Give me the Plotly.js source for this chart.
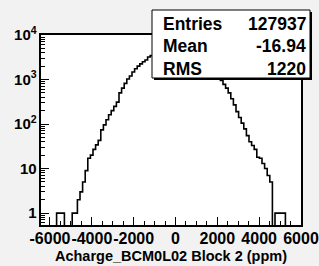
<!DOCTYPE html>
<html>
<head>
<meta charset="utf-8">
<script src="https://cdn.plot.ly/plotly-3.0.1.min.js"></script>
<style>
  html, body { margin: 0; padding: 0; background: #f2f2f2; }
  #chart { width: 319px; height: 266px; }
</style>
</head>
<body>
<div id="chart"></div>
<script>
// ---- data ----
const binLo = -6430;
const binHi = 6000;
const nBins = 100;
const counts = [
  0, 0, 0, 0, 0, 0,
  1, 1, 1,
  0, 0, 0,
  1, 1,
  2, 3, 5, 9, 17, 20, 27, 34, 43, 74, 96, 125, 162, 200, 250, 310,
  500, 640, 820, 1030, 1200, 1480, 1750, 2000, 2250, 2500, 2750, 3200, 3450,
  3700, 3980, 4270, 4540, 4750, 4950, 5090, 5180, 5220, 5200, 5130, 5010, 4840,
  4640, 4380, 4110, 3810, 3490, 3170, 2850, 2540, 2230, 1950, 1680, 1440, 1210,
  950, 780, 640, 500, 370, 270, 190, 140, 105, 78, 55, 40, 33, 27, 18, 17, 13, 10, 7, 5,
  0,
  1, 1, 1, 1,
  0, 0, 0, 0, 0, 0
];
const xTickVals = [-6000, -4000, -2000, 0, 2000, 4000, 6000];
const xTickText = ['-6000', '-4000', '-2000', '0', '2000', '4000', '6000'];
const statLabels = ['Entries', 'Mean', 'RMS'];
const statValues = ['127937', '-16.94', '1220'];
const xTitle = 'Acharge_BCM0L02 Block 2 (ppm)';
const yMin = 0.54, yMax = 10000;

// ---- build step line ----
const w = (binHi - binLo) / nBins;
const xs = [], ys = [];
for (let i = 0; i < nBins; i++) {
  xs.push(binLo + i * w);
  ys.push(counts[i] > 0 ? counts[i] : 1e-3);
}
xs.push(binHi);
ys.push(counts[nBins - 1] > 0 ? counts[nBins - 1] : 1e-3);

const FONT = 'Liberation Sans, Arial, Helvetica, sans-serif';

const W = 319, H = 266;
const mL = 41, mR = 18, mT = 35, mB = 41;
const pw = W - mL - mR, ph = H - mT - mB;
const px2x = p => (p - mL) / pw;
const py2y = p => (H - mB - p) / ph;

// stats box geometry (pixels)
const bx0 = 152, bx1 = 310, by0 = 10, by1 = 78, sh = 2;
const rowY = [24, 46, 68.5];

const shapes = [
  { type: 'rect', xref: 'paper', yref: 'paper', layer: 'above',
    x0: px2x(bx0 + sh), x1: px2x(bx1 + sh), y0: py2y(by1 + sh), y1: py2y(by0 + sh),
    fillcolor: '#000', line: { width: 0 } },
  { type: 'rect', xref: 'paper', yref: 'paper', layer: 'above',
    x0: px2x(bx0), x1: px2x(bx1), y0: py2y(by1), y1: py2y(by0),
    fillcolor: '#fff', line: { color: '#000', width: 1 } }
];
const annotations = [];
statLabels.forEach((lab, i) => {
  annotations.push({ xref: 'paper', yref: 'paper', x: px2x(161), y: py2y(rowY[i]),
    xanchor: 'left', yanchor: 'middle', showarrow: false, text: lab,
    font: { family: FONT, size: 17.5, weight: 'bold', color: '#000' } });
  annotations.push({ xref: 'paper', yref: 'paper', x: px2x(308), y: py2y(rowY[i]),
    xanchor: 'right', yanchor: 'middle', showarrow: false, text: statValues[i],
    font: { family: FONT, size: 17.5, weight: 'bold', color: '#000' } });
});

const trace = {
  type: 'scatter', mode: 'lines', x: xs, y: ys,
  line: { shape: 'hv', color: '#000', width: 1.6 },
  hoverinfo: 'skip'
};

const layout = {
  width: W, height: H,
  margin: { l: mL, r: mR, t: mT, b: mB, pad: 0 },
  paper_bgcolor: '#f2f2f2',
  plot_bgcolor: '#ffffff',
  showlegend: false,
  xaxis: {
    type: 'linear', range: [binLo, binHi],
    showline: true, linecolor: '#000', linewidth: 2, mirror: true,
    showgrid: false, zeroline: false,
    tickmode: 'array', tickvals: xTickVals, ticktext: xTickText,
    tickangle: 0,
    ticks: 'inside', ticklen: 8, tickwidth: 1, tickcolor: '#000',
    ticklabelstandoff: -2,
    minor: { ticks: 'inside', dtick: 500, tick0: 0, ticklen: 4, tickwidth: 1, tickcolor: '#000', showgrid: false },
    tickfont: { family: FONT, size: 16, weight: 'bold', color: '#000' },
    title: { text: xTitle, standoff: 5, font: { family: FONT, size: 14.5, weight: 'bold', color: '#000' } }
  },
  yaxis: {
    type: 'log', range: [Math.log10(yMin), Math.log10(yMax)],
    showline: true, linecolor: '#000', linewidth: 2, mirror: true,
    showgrid: false, zeroline: false,
    dtick: 1, exponentformat: 'power',
    ticks: 'inside', ticklen: 8, tickwidth: 1, tickcolor: '#000',
    minor: { ticks: 'inside', dtick: 'D1', ticklen: 4, tickwidth: 1, tickcolor: '#000', showgrid: false },
    tickfont: { family: FONT, size: 12, weight: 'bold', color: '#000' }
  },
  shapes: shapes,
  annotations: annotations
};

Plotly.newPlot('chart', [trace], layout, { staticPlot: true, displayModeBar: false });
</script>
</body>
</html>
